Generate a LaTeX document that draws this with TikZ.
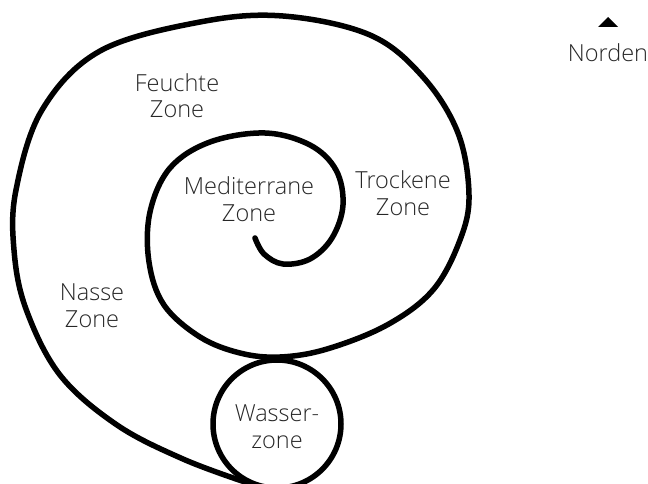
\documentclass[tikz,border=0pt]{standalone}
\usepackage{fontspec}
\setmainfont{Open Sans}[UprightFont=* Light]
\begin{document}
\begin{tikzpicture}[x=1pt,y=-1pt,
  zoneline/.style={line width=5.5pt,line cap=round,line join=round,black},
  zonelabel/.style={align=center,inner sep=0pt,anchor=base,text=black!85,
    font=\fontsize{23.5}{26.5}\selectfont}]
\useasboundingbox (0,0) rectangle (648,484);
% spiral
\draw[zoneline] plot[smooth,tension=0.6] coordinates {
  (255,238) (264,254) (283,264) (310,259) (332,238) (343,205) (336,170)
  (310,145) (265,133) (210,142) (170,168) (150,212) (149,262) (164,305)
  (200,337) (240,353) (280,357) (327,349) (387,325) (433,290) (460,240)
  (469,195) (458,133) (423,77) (370,35) (283,16) (200,22) (100,51)
  (42,110) (16,190) (14,250) (26,309) (60,375) (117,425) (183,459) (245,482)};
% water circle
\draw[zoneline] (277,424) circle[radius=64];
% north arrow
\fill (598,27) -- (608,17) -- (618,27) -- cycle;
% labels (anchor at baseline of last line)
\node[zonelabel] (feuchte) at (177,118) {Feuchte\\Zone};
\node[zonelabel] (medit) at (249,221) {Mediterrane\\Zone};
\node[zonelabel] (trocken) at (403,215) {Trockene\\Zone};
\node[zonelabel] (nass) at (92,327) {Nasse\\Zone};
\node[zonelabel] (wasser) at (277,448) {Wasser-\\zone};
\node[zonelabel] (norden) at (608,62) {Norden};
\end{tikzpicture}
\end{document}
